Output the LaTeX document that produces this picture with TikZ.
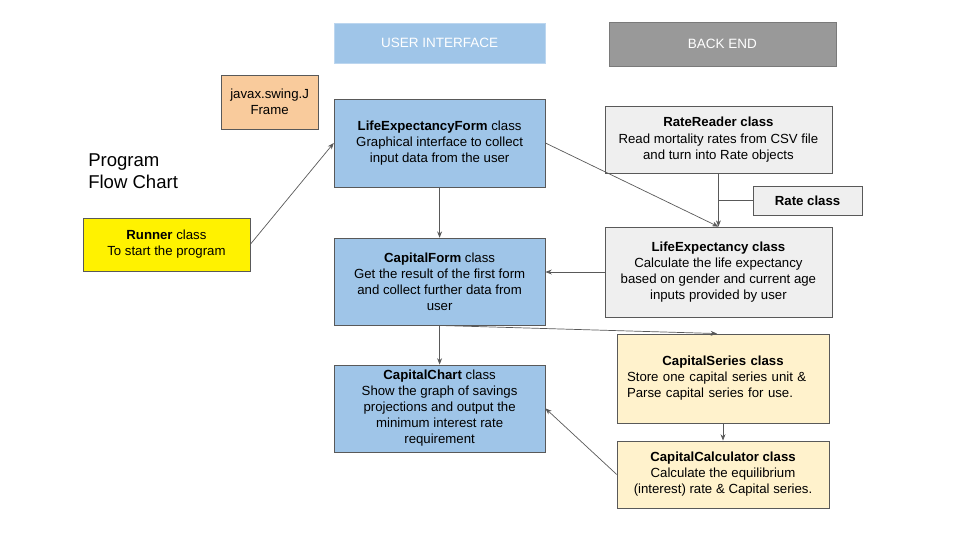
\documentclass[tikz,border=0pt]{standalone}
\usepackage{fontspec}
\setmainfont{Liberation Sans}
\usetikzlibrary{arrows.meta}
\definecolor{uiblue}{HTML}{9FC5E8}
\definecolor{backgrey}{HTML}{999999}
\definecolor{lightgrey}{HTML}{EFEFEF}
\definecolor{cream}{HTML}{FFF2CC}
\definecolor{peach}{HTML}{F9CB9C}
\definecolor{edgegrey}{HTML}{595959}
\tikzset{
  box/.style={draw=edgegrey, line width=0.5pt, inner sep=2pt, align=center,
    font=\fontsize{9.4}{11.4}\selectfont},
  classui/.style={box, fill=uiblue, minimum width=5.275cm, minimum height=2.2cm},
  classback/.style={box, fill=lightgrey, minimum width=5.675cm},
  classcap/.style={box, fill=cream, minimum width=5.3cm},
  header/.style={box, text=white, font=\fontsize{9.6}{11.4}\selectfont},
  arr/.style={draw=edgegrey, line width=0.5pt, -{Stealth[length=4.5pt,width=3.5pt]}}
}

\begin{document}
\begin{tikzpicture}
        \useasboundingbox (0,0) rectangle (24,-13.5);

        \node (UI) at (10.99,-1.075) [header, draw=uiblue!70!white, fill=uiblue, minimum width=5.275cm, minimum height=1cm] {USER INTERFACE};
        \node (BE) at (18.06,-1.1) [header, draw=edgegrey!80, fill=backgrey, minimum width=5.675cm, minimum height=1.1cm] {BACK END};

        \node (JF) at (6.74,-2.55) [box, fill=peach, minimum width=2.425cm, minimum height=1.35cm] {javax.swing.J\\Frame};
        \node (T) at (2.2,-4.275) [anchor=west, align=left, inner sep=0pt, font=\fontsize{13.2}{16}\selectfont] {Program\\Flow Chart};

        \node (Runner) at (4.16,-6.11) [box, fill=yellow, minimum width=4.175cm, minimum height=1.325cm] {\textbf{Runner} class\\To start the program};

        \node (LEF) at (10.99,-3.575) [classui] {\textbf{LifeExpectancyForm} class\\Graphical interface to collect\\input data from the user};
        \node (CF) at (10.99,-7.04) [classui, minimum height=2.175cm] {\textbf{CapitalForm} class\\Get the result of the first form\\and collect further data from\\user};
        \node (CC) at (10.99,-10.21) [classui, minimum height=2.175cm] {\textbf{CapitalChart} class\\Show the graph of savings\\projections and output the\\minimum interest rate\\requirement};

        \node (RR) at (17.96,-3.49) [classback, minimum height=1.675cm] {\textbf{RateReader class}\\Read mortality rates from CSV file\\and turn into Rate objects};
        \node (Rate) at (20.19,-5.01) [box, fill=lightgrey, minimum width=2.725cm, minimum height=0.725cm] {\textbf{Rate class}};
        \node (LE) at (17.96,-6.8) [classback, minimum height=2.25cm] {\textbf{LifeExpectancy class}\\Calculate the life expectancy\\based on gender and current age\\inputs provided by user};

        \node (CS) at (18.075,-9.46) [classcap, minimum height=2.225cm, inner xsep=7pt, text width=4.8cm, align=left] {{\centering\textbf{CapitalSeries class}\par}Store one capital series unit \&\\Parse capital series for use.};
        \node (Calc) at (18.075,-11.86) [classcap, minimum height=1.675cm] {\textbf{CapitalCalculator class}\\Calculate the equilibrium\\(interest) rate \& Capital series.};

        \draw[arr] (Runner.east) -- (LEF.west);
        \draw[arr] (LEF.south) -- (CF.north);
        \draw[arr] (LEF.east) -- (LE.north);
        \draw[arr] (RR.south) -- (LE.north);
        \draw[draw=edgegrey, line width=0.5pt] (Rate.west) -- (Rate.west -| RR.south);
        \draw[arr] (LE.west) -- (LE.west -| CF.east);
        \draw[arr] (CF.south) -- ([xshift=-0.15cm]CS.north);
        \draw[arr] (CF.south) -- (CC.north);
        \draw[arr] (CS.south) -- (Calc.north);
        \draw[arr] (Calc.west) -- (CC.east);
    \end{tikzpicture}
\end{document}
